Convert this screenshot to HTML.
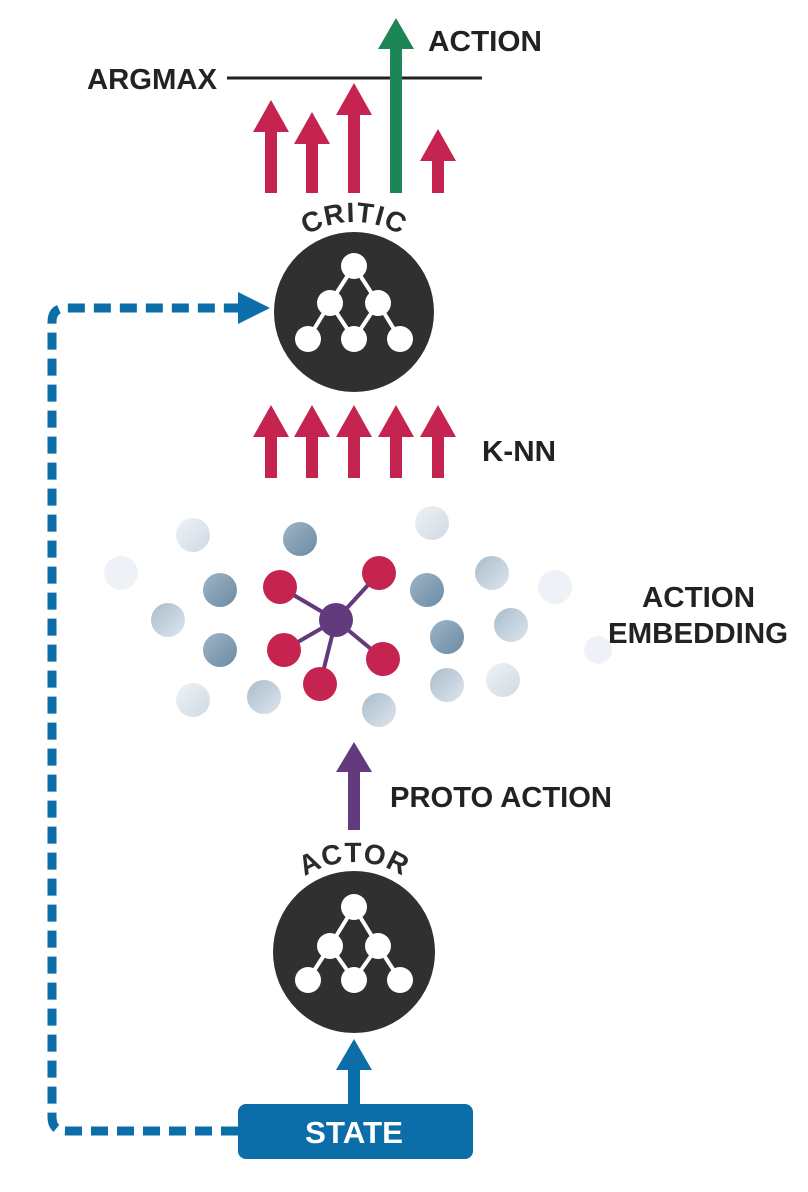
<!DOCTYPE html>
<html><head><meta charset="utf-8"><style>
html,body{margin:0;padding:0;background:#fff;}
svg{display:block;}
text{font-family:"Liberation Sans",sans-serif;font-weight:bold;}
</style></head><body>
<svg width="808" height="1192" viewBox="0 0 808 1192">
<defs>
<linearGradient id="gd" x1="0" y1="0" x2="1" y2="1"><stop offset="0" stop-color="#9fb4c6"/><stop offset="1" stop-color="#6a8ba4"/></linearGradient>
<linearGradient id="gm" x1="0" y1="0" x2="1" y2="1"><stop offset="0" stop-color="#a9bccb"/><stop offset="1" stop-color="#dde6ee"/></linearGradient>
<linearGradient id="gl" x1="0" y1="0" x2="1" y2="1"><stop offset="0" stop-color="#eef2f6"/><stop offset="1" stop-color="#cfdae4"/></linearGradient>
<path id="arcC" d="M 264 312 A 90 90 0 0 1 444 312"/>
<path id="arcA" d="M 264 952 A 90 90 0 0 1 444 952"/>
</defs>

<text x="87" y="89" font-size="29" fill="#222" textLength="130" lengthAdjust="spacingAndGlyphs">ARGMAX</text>
<line x1="227" y1="78" x2="482" y2="78" stroke="#222" stroke-width="3"/>
<text x="428" y="51" font-size="29" fill="#222" textLength="114" lengthAdjust="spacingAndGlyphs">ACTION</text>

<g fill="#c4244f">
<polygon points="265,193 277,193 277,132 289,132 271,100 253,132 265,132"/>
<polygon points="306,193 318,193 318,144 330,144 312,112 294,144 306,144"/>
<polygon points="348,193 360,193 360,115 372,115 354,83 336,115 348,115"/>
<polygon points="432,193 444,193 444,161 456,161 438,129 420,161 432,161"/>
</g>
<polygon fill="#1d8656" points="390,193 402,193 402,49 414,49 396,18 378,49 390,49"/>

<text font-size="28" fill="#2a2a2a" letter-spacing="1"><textPath href="#arcC" startOffset="50%" text-anchor="middle">CRITIC</textPath></text>
<g>
<circle cx="354" cy="312" r="80" fill="#303030"/>
<g stroke="#fff" stroke-width="4"><line x1="354" y1="266" x2="330" y2="303"/><line x1="354" y1="266" x2="378" y2="303"/><line x1="330" y1="303" x2="308" y2="339"/><line x1="330" y1="303" x2="354" y2="339"/><line x1="378" y1="303" x2="354" y2="339"/><line x1="378" y1="303" x2="400" y2="339"/></g>
<g fill="#fff"><circle cx="354" cy="266" r="13"/><circle cx="330" cy="303" r="13"/><circle cx="378" cy="303" r="13"/><circle cx="308" cy="339" r="13"/><circle cx="354" cy="339" r="13"/><circle cx="400" cy="339" r="13"/></g>
</g>

<g fill="#c4244f">
<polygon points="265,478 277,478 277,437 289,437 271,405 253,437 265,437"/>
<polygon points="306,478 318,478 318,437 330,437 312,405 294,437 306,437"/>
<polygon points="348,478 360,478 360,437 372,437 354,405 336,437 348,437"/>
<polygon points="390,478 402,478 402,437 414,437 396,405 378,437 390,437"/>
<polygon points="432,478 444,478 444,437 456,437 438,405 420,437 432,437"/>
</g>
<text x="482" y="461" font-size="29" fill="#222" textLength="74" lengthAdjust="spacingAndGlyphs">K-NN</text>

<g>
<circle cx="121" cy="573" r="17" fill="#eef2f6"/>
<circle cx="193" cy="535" r="17" fill="url(#gl)"/>
<circle cx="300" cy="539" r="17" fill="url(#gd)"/>
<circle cx="220" cy="590" r="17" fill="url(#gd)"/>
<circle cx="168" cy="620" r="17" fill="url(#gm)"/>
<circle cx="220" cy="650" r="17" fill="url(#gd)"/>
<circle cx="193" cy="700" r="17" fill="url(#gl)"/>
<circle cx="264" cy="697" r="17" fill="url(#gm)"/>
<circle cx="379" cy="710" r="17" fill="url(#gm)"/>
<circle cx="432" cy="523" r="17" fill="url(#gl)"/>
<circle cx="427" cy="590" r="17" fill="url(#gd)"/>
<circle cx="492" cy="573" r="17" fill="url(#gm)"/>
<circle cx="555" cy="587" r="17" fill="#eef2f6"/>
<circle cx="447" cy="637" r="17" fill="url(#gd)"/>
<circle cx="511" cy="625" r="17" fill="url(#gm)"/>
<circle cx="447" cy="685" r="17" fill="url(#gm)"/>
<circle cx="503" cy="680" r="17" fill="url(#gl)"/>
<circle cx="598" cy="650" r="14" fill="#eef2f6"/>
</g>
<g stroke="#633a7e" stroke-width="4">
<line x1="336" y1="620" x2="280" y2="587"/><line x1="336" y1="620" x2="379" y2="573"/><line x1="336" y1="620" x2="284" y2="650"/><line x1="336" y1="620" x2="383" y2="659"/><line x1="336" y1="620" x2="320" y2="684"/>
</g>
<g fill="#c4244f">
<circle cx="280" cy="587" r="17"/><circle cx="379" cy="573" r="17"/><circle cx="284" cy="650" r="17"/><circle cx="383" cy="659" r="17"/><circle cx="320" cy="684" r="17"/>
</g>
<circle cx="336" cy="620" r="17" fill="#633a7e"/>
<text x="642" y="607" font-size="29" fill="#222" textLength="113" lengthAdjust="spacingAndGlyphs">ACTION</text>
<text x="608" y="643" font-size="29" fill="#222" textLength="180" lengthAdjust="spacingAndGlyphs">EMBEDDING</text>

<polygon fill="#633a7e" points="348,830 360,830 360,772 372,772 354,742 336,772 348,772"/>
<text x="390" y="807" font-size="29" fill="#222" textLength="222" lengthAdjust="spacingAndGlyphs">PROTO ACTION</text>

<text font-size="28" fill="#2a2a2a" letter-spacing="1"><textPath href="#arcA" startOffset="50%" text-anchor="middle">ACTOR</textPath></text>
<g>
<circle cx="354" cy="952" r="81" fill="#303030"/>
<g stroke="#fff" stroke-width="4"><line x1="354" y1="907" x2="330" y2="946"/><line x1="354" y1="907" x2="378" y2="946"/><line x1="330" y1="946" x2="308" y2="980"/><line x1="330" y1="946" x2="354" y2="980"/><line x1="378" y1="946" x2="354" y2="980"/><line x1="378" y1="946" x2="400" y2="980"/></g>
<g fill="#fff"><circle cx="354" cy="907" r="13"/><circle cx="330" cy="946" r="13"/><circle cx="378" cy="946" r="13"/><circle cx="308" cy="980" r="13"/><circle cx="354" cy="980" r="13"/><circle cx="400" cy="980" r="13"/></g>
</g>

<polygon fill="#0b6ea8" points="348,1106 360,1106 360,1070 372,1070 354,1039 336,1070 348,1070"/>
<path d="M 238 1131 L 66 1131 Q 52 1131 52 1117 L 52 322 Q 52 308 66 308 L 242 308" fill="none" stroke="#0b6ea8" stroke-width="9" stroke-dasharray="17 9"/>
<polygon fill="#0b6ea8" points="238,292 270,308 238,324"/>
<rect x="238" y="1104" width="235" height="55" rx="8" fill="#0b6ea8"/>
<text x="305" y="1143" font-size="31" fill="#fff" textLength="98" lengthAdjust="spacingAndGlyphs">STATE</text>
</svg>
</body></html>
